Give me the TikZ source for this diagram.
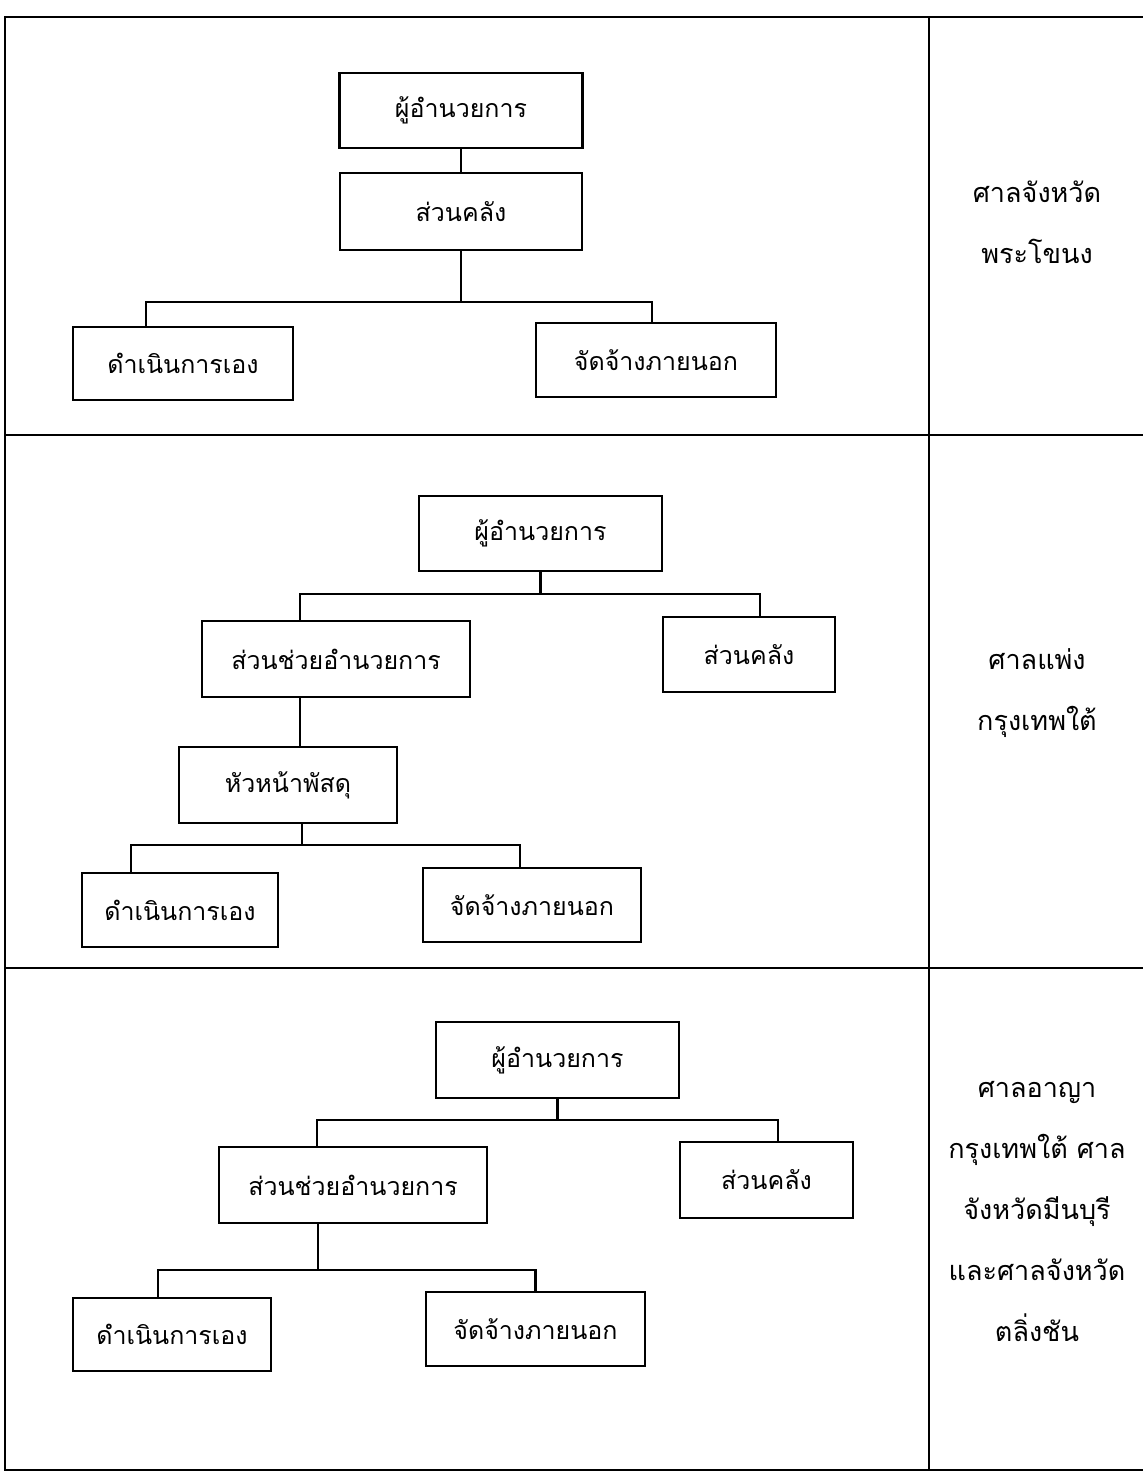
\documentclass[tikz,border=0pt]{standalone}
\usepackage{fontspec}
\newfontfamily\thaifont[Script=Thai]{Loma}
\begin{document}
\begin{tikzpicture}[x=0.5pt, y=-0.5pt, line width=1.1pt,
    unit/.style={draw, line width=1.3pt, inner sep=0pt, font=\thaifont\fontsize{12.5}{15}\selectfont},
    court/.style={align=center, font=\thaifont\fontsize{13.5}{30.5}\selectfont}]
    \useasboundingbox (0, 0) rectangle (1143, 1474);
    \draw (1143, 17) -- (5, 17) -- (5, 1470) -- (1143, 1470);
    \draw (5, 435) -- (1143, 435);
    \draw (5, 968) -- (1143, 968);
    \draw (929, 17) -- (929, 1470);

    \node[unit, minimum width=121.5pt, minimum height=37.5pt] (boss1) at (461, 110.5) {ผู้อำนวยการ};
    \node[unit, minimum width=121pt, minimum height=38.5pt] (klang1) at (461, 211.5) {ส่วนคลัง};
    \node[unit, minimum width=110pt, minimum height=36.5pt] (own1) at (183, 363.5) {ดำเนินการเอง};
    \node[unit, minimum width=120pt, minimum height=37pt] (out1) at (656, 360) {จัดจ้างภายนอก};
    \coordinate (br1) at (0, 302);
    \draw (boss1) -- (klang1);
    \draw (klang1.south) -- (klang1.south |- br1) -| ([xshift=-18.5pt]own1.north);
    \draw (klang1.south |- br1) -| ([xshift=-2pt]out1.north);
    \node[court] (court1) at (1037, 222.5) {ศาลจังหวัด\\พระโขนง};

    \node[unit, minimum width=121.5pt, minimum height=37.5pt] (boss2) at (540.5, 533.5) {ผู้อำนวยการ};
    \node[unit, minimum width=134pt, minimum height=38pt] (assist2) at (336, 659) {ส่วนช่วยอำนวยการ};
    \node[unit, minimum width=86pt, minimum height=37.5pt] (klang2) at (749, 654.5) {ส่วนคลัง};
    \node[unit, minimum width=109pt, minimum height=38pt] (head2) at (288, 785) {หัวหน้าพัสดุ};
    \node[unit, minimum width=98pt, minimum height=37pt] (own2) at (180, 910) {ดำเนินการเอง};
    \node[unit, minimum width=109pt, minimum height=37pt] (out2) at (532, 905) {จัดจ้างภายนอก};
    \coordinate (br2a) at (0, 594);
    \coordinate (br2b) at (0, 845);
    \draw (boss2.south) -- (boss2.south |- br2a) -| ([xshift=-18pt]assist2.north);
    \draw (boss2.south |- br2a) -| ([xshift=5.5pt]klang2.north);
    \draw ([xshift=-18pt]assist2.south) -- ([xshift=-18pt]assist2.south |- head2.north);
    \draw ([xshift=7pt]head2.south) -- ([xshift=7pt]head2.south |- br2b) -| ([xshift=-24.5pt]own2.north);
    \draw ([xshift=7pt]head2.south |- br2b) -| ([xshift=-6pt]out2.north);
    \node[court] (court2) at (1037, 693) {ศาลแพ่ง\\กรุงเทพใต้};

    \node[unit, minimum width=121.5pt, minimum height=38pt] (boss3) at (557.5, 1060) {ผู้อำนวยการ};
    \node[unit, minimum width=134pt, minimum height=38pt] (assist3) at (353, 1185) {ส่วนช่วยอำนวยการ};
    \node[unit, minimum width=86.5pt, minimum height=38pt] (klang3) at (766.5, 1180) {ส่วนคลัง};
    \node[unit, minimum width=99pt, minimum height=36.5pt] (own3) at (172, 1334.5) {ดำเนินการเอง};
    \node[unit, minimum width=109.5pt, minimum height=37pt] (out3) at (535.5, 1329) {จัดจ้างภายนอก};
    \coordinate (br3a) at (0, 1120);
    \coordinate (br3b) at (0, 1270);
    \draw (boss3.south) -- (boss3.south |- br3a) -| ([xshift=-18pt]assist3.north);
    \draw (boss3.south |- br3a) -| ([xshift=5.75pt]klang3.north);
    \draw ([xshift=-17.5pt]assist3.south) -- ([xshift=-17.5pt]assist3.south |- br3b) -| ([xshift=-7pt]own3.north);
    \draw ([xshift=-17.5pt]assist3.south |- br3b) -| (out3.north);
    \node[court] (court3) at (1037, 1211.5) {ศาลอาญา\\กรุงเทพใต้ ศาล\\จังหวัดมีนบุรี\\และศาลจังหวัด\\ตลิ่งชัน};
\end{tikzpicture}
\end{document}
